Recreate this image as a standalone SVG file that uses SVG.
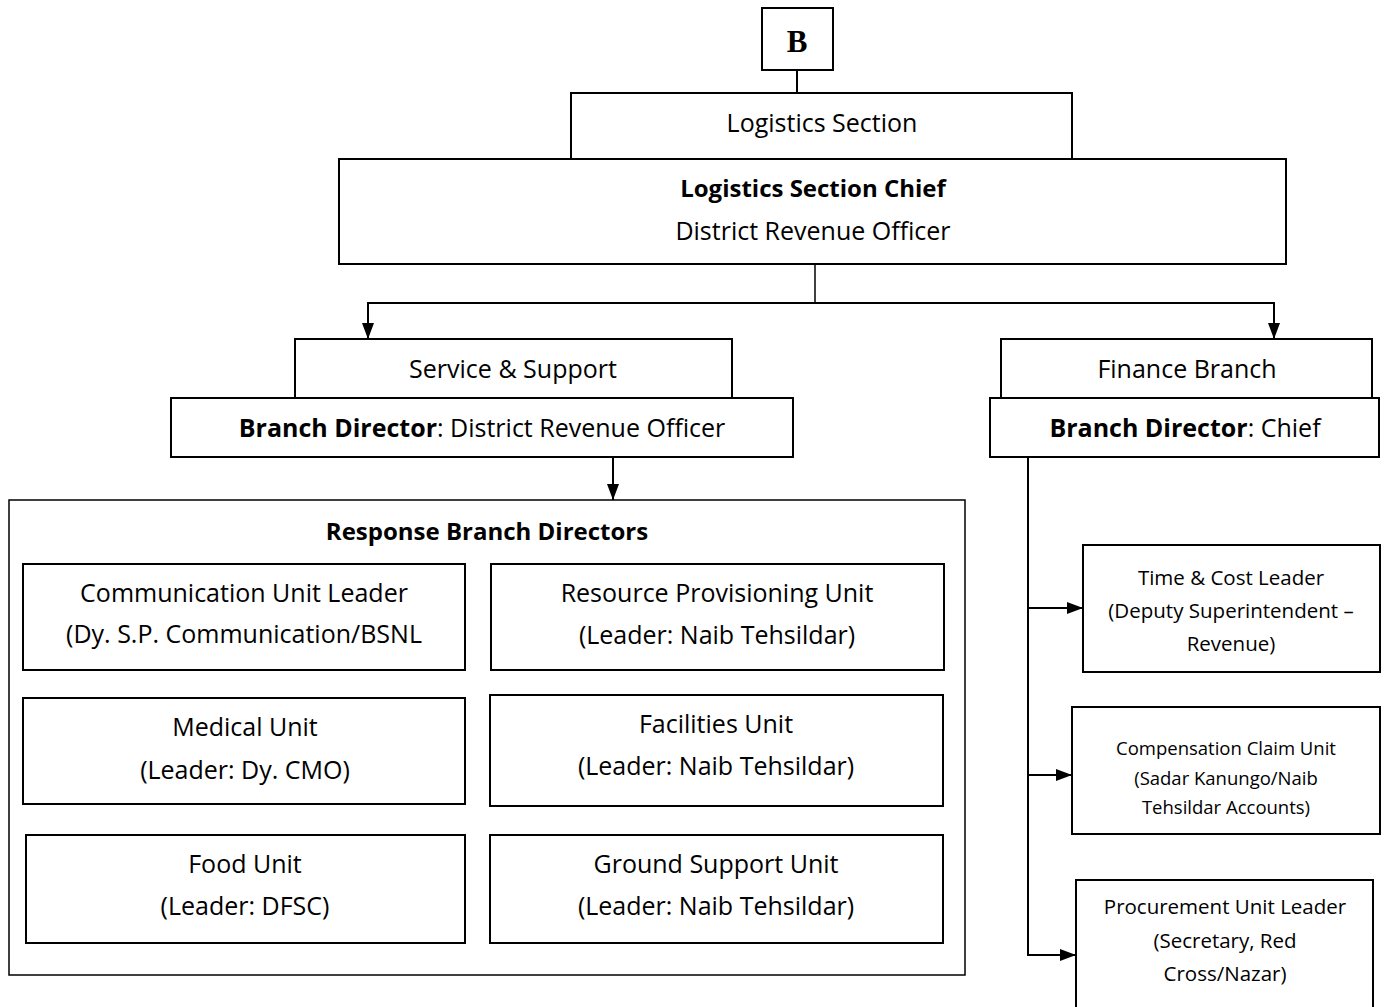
<svg xmlns="http://www.w3.org/2000/svg" width="1386" height="1007" viewBox="0 0 1386 1007">
<style>
rect{fill:#fff;stroke:#000;stroke-width:2}
.thin{stroke-width:1.5}
text{font-family:"Open Sans","Noto Sans","Liberation Sans",sans-serif;fill:#000;text-anchor:middle}
.t24{font-size:25px}
.tb{font-size:24px;font-weight:bold}
.t18{font-size:20.5px}
.t16{font-size:18.5px}
.b{font-weight:bold}
.c{fill:none;stroke:#000;stroke-width:2}
</style>
<defs>
<marker id="ah" viewBox="0 0 16 12" refX="16" refY="6" markerWidth="16" markerHeight="12" markerUnits="userSpaceOnUse" orient="auto">
<path d="M0,0 L16,6 L0,12 z" fill="#000"/>
</marker>
</defs>

<g id="connectors">
<line class="c" x1="797" y1="70" x2="797" y2="93"/>
<line class="c" x1="815" y1="264" x2="815" y2="303" style="stroke-width:1.5"/>
<line class="c" x1="367" y1="303" x2="1275" y2="303"/>
<line class="c" x1="368" y1="303" x2="368" y2="339" marker-end="url(#ah)"/>
<line class="c" x1="1274" y1="303" x2="1274" y2="339" marker-end="url(#ah)"/>
<line class="c" x1="613" y1="457" x2="613" y2="500" marker-end="url(#ah)"/>
<line class="c" x1="1028" y1="457" x2="1028" y2="956"/>
<line class="c" x1="1027" y1="608" x2="1083" y2="608" marker-end="url(#ah)"/>
<line class="c" x1="1027" y1="775" x2="1072" y2="775" marker-end="url(#ah)"/>
<line class="c" x1="1027" y1="955" x2="1076" y2="955" marker-end="url(#ah)"/>
</g>

<g id="node-b">
<rect x="762" y="8" width="71" height="62"/>
<text x="797" y="52" style="font-family:'Liberation Serif',serif;font-size:31px;font-weight:bold">B</text>
</g>

<g id="node-logistics-section">
<rect x="571" y="93" width="501" height="70"/>
<text class="t24" x="822" y="132">Logistics Section</text>
</g>

<g id="node-logistics-chief">
<rect x="339" y="159" width="947" height="105"/>
<text class="tb" x="813" y="197">Logistics Section Chief</text>
<text class="t24" x="813" y="240">District Revenue Officer</text>
</g>

<g id="node-service-support">
<rect x="295" y="339" width="437" height="62"/>
<text class="t24" x="513" y="378">Service &amp; Support</text>
</g>

<g id="node-service-director">
<rect x="171" y="398" width="622" height="59"/>
<text class="t24" x="482" y="437"><tspan class="b">Branch Director</tspan>: District Revenue Officer</text>
</g>

<g id="node-finance-branch">
<rect x="1001" y="339" width="371" height="62"/>
<text class="t24" x="1187" y="378">Finance Branch</text>
</g>

<g id="node-finance-director">
<rect x="990" y="398" width="389" height="59"/>
<text class="t24" x="1185" y="437"><tspan class="b">Branch Director</tspan>: Chief</text>
</g>

<g id="node-response">
<rect class="thin" x="9" y="500" width="956" height="475"/>
<text class="tb" x="487" y="540">Response Branch Directors</text>
</g>

<g id="node-communication">
<rect x="23" y="564" width="442" height="106"/>
<text class="t24" x="244" y="602">Communication Unit Leader</text>
<text class="t24" x="244" y="643">(Dy. S.P. Communication/BSNL</text>
</g>

<g id="node-resource">
<rect x="491" y="564" width="453" height="106"/>
<text class="t24" x="717" y="602">Resource Provisioning Unit</text>
<text class="t24" x="717" y="644">(Leader: Naib Tehsildar)</text>
</g>

<g id="node-medical">
<rect x="23" y="698" width="442" height="106"/>
<text class="t24" x="245" y="736">Medical Unit</text>
<text class="t24" x="245" y="779">(Leader: Dy. CMO)</text>
</g>

<g id="node-facilities">
<rect x="490" y="695" width="453" height="111"/>
<text class="t24" x="716" y="733">Facilities Unit</text>
<text class="t24" x="716" y="775">(Leader: Naib Tehsildar)</text>
</g>

<g id="node-food">
<rect x="26" y="835" width="439" height="108"/>
<text class="t24" x="245" y="873">Food Unit</text>
<text class="t24" x="245" y="915">(Leader: DFSC)</text>
</g>

<g id="node-ground">
<rect x="490" y="835" width="453" height="108"/>
<text class="t24" x="716" y="873">Ground Support Unit</text>
<text class="t24" x="716" y="915">(Leader: Naib Tehsildar)</text>
</g>

<g id="node-time-cost">
<rect x="1083" y="545" width="297" height="127"/>
<text class="t18" x="1231" y="585">Time &amp; Cost Leader</text>
<text class="t18" x="1231" y="618">(Deputy Superintendent –</text>
<text class="t18" x="1231" y="651">Revenue)</text>
</g>

<g id="node-compensation">
<rect x="1072" y="707" width="308" height="127"/>
<text class="t16" x="1226" y="755">Compensation Claim Unit</text>
<text class="t16" x="1226" y="785">(Sadar Kanungo/Naib</text>
<text class="t16" x="1226" y="814">Tehsildar Accounts)</text>
</g>

<g id="node-procurement">
<rect x="1076" y="880" width="297" height="140"/>
<text class="t18" x="1225" y="914">Procurement Unit Leader</text>
<text class="t18" x="1225" y="948">(Secretary, Red</text>
<text class="t18" x="1225" y="981">Cross/Nazar)</text>
</g>
</svg>
